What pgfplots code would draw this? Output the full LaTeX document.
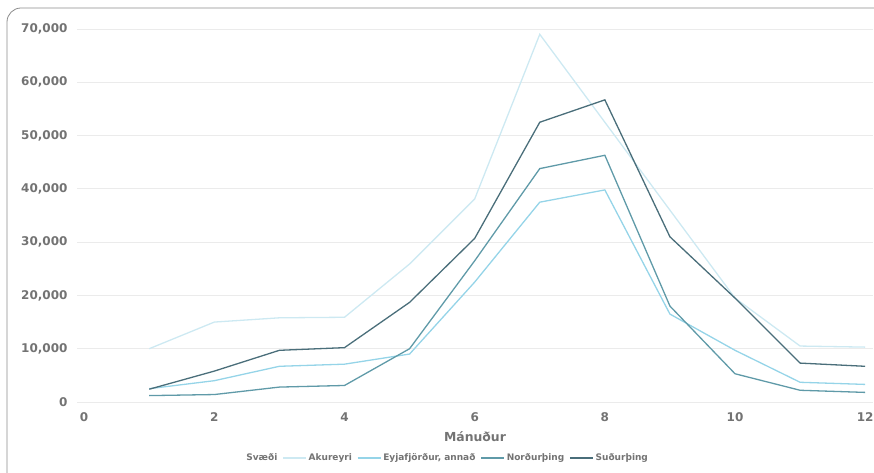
\documentclass[border=0pt]{standalone}
\usepackage{pgfplots}
\pgfplotsset{compat=1.18}
\usepackage{fontspec}
\setmainfont{DejaVu Sans}
\definecolor{cAk}{HTML}{CDE9F2}
\definecolor{cEy}{HTML}{95D4E8}
\definecolor{cNo}{HTML}{5F9AA8}
\definecolor{cSu}{HTML}{4A6E7A}
\definecolor{txt}{HTML}{737373}
\definecolor{gridc}{HTML}{EBEBEB}
\begin{document}
\begin{tikzpicture}[x=1pt,y=1pt]
\path[use as bounding box] (-77,-71) rectangle (797,402);
\begin{scope}
\clip (-77,-71) rectangle (797,402);
\draw[color=black!45, line width=0.8pt, rounded corners=14pt] (-70,-95) rectangle (810,394);
\end{scope}
\begin{axis}[
  at={(0,0)}, anchor=south west,
  scale only axis, width=796pt, height=373pt,
  xmin=-0.11, xmax=12.12, ymin=0, ymax=70000,
  xtick={0,2,...,12}, ytick={0,10000,...,70000},
  /pgf/number format/assume math mode=true,
  /pgf/number format/.cd, 1000 sep={,}, /pgfplots/.cd,
  scaled y ticks=false,
  axis line style={draw=none},
  major tick length=0pt,
  ymajorgrids, major grid style={gridc, line width=0.8pt},
  ticklabel style={font=\bfseries\fontsize{12}{14}\selectfont, text=txt},
  yticklabel style={xshift=-6pt},
  xticklabel style={yshift=-7pt},
  xlabel={Mánuður},
  xlabel style={at={(axis description cs:0.5,0)}, anchor=center, yshift=-35pt,
    font=\bfseries\fontsize{12.4}{14}\selectfont, text=txt},
  legend columns=-1,
  legend style={draw=none, fill=none, at={(0.465,-0.150)}, anchor=center,
    font=\bfseries\fontsize{9}{11}\selectfont, text=txt,
    /tikz/every even column/.append style={column sep=3pt}},
  legend image code/.code={\draw[#1] (0pt,0pt) -- (23pt,0pt);},
  every axis plot/.append style={line width=1.3pt},
]
\addlegendimage{empty legend}
\addlegendentry{Svæði}
\addplot[cAk] coordinates {(1,10000)(2,15000)(3,15800)(4,15900)(5,25900)(6,38100)(7,69000)(8,52500)(9,36000)(10,19500)(11,10500)(12,10300)};
\addlegendentry{Akureyri}
\addplot[cEy] coordinates {(1,2500)(2,4000)(3,6700)(4,7100)(5,9000)(6,22500)(7,37500)(8,39800)(9,16500)(10,9700)(11,3700)(12,3300)};
\addlegendentry{Eyjafjörður, annað}
\addplot[cNo] coordinates {(1,1200)(2,1400)(3,2800)(4,3100)(5,10000)(6,26500)(7,43800)(8,46300)(9,18000)(10,5300)(11,2200)(12,1800)};
\addlegendentry{Norðurþing}
\addplot[cSu] coordinates {(1,2400)(2,5800)(3,9700)(4,10200)(5,18700)(6,30700)(7,52500)(8,56700)(9,31000)(10,19500)(11,7300)(12,6700)};
\addlegendentry{Suðurþing}
\end{axis}
\end{tikzpicture}
\end{document}
